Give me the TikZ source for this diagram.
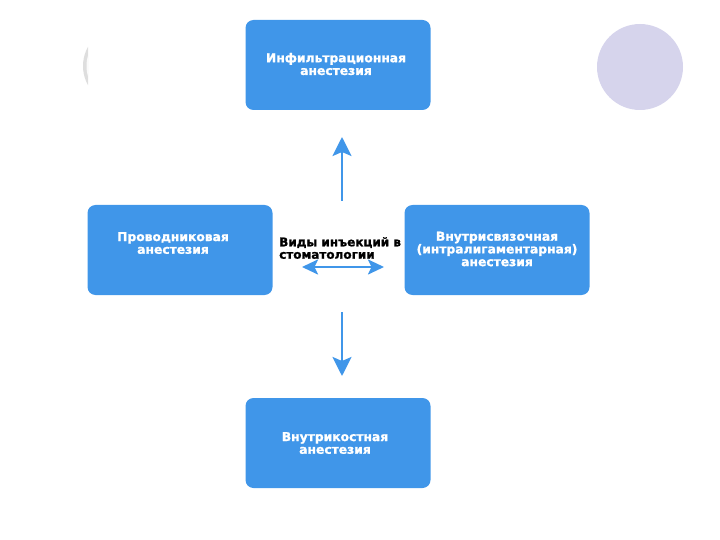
\documentclass[tikz,border=0pt]{standalone}
\usepackage{fontspec}
\setmainfont[BoldFeatures={FakeBold=1.2}]{DejaVu Sans}
\usetikzlibrary{arrows.meta}
\definecolor{boxblue}{RGB}{64,150,233}
\definecolor{lavender}{RGB}{214,212,236}
\definecolor{ringgray}{RGB}{222,222,222}
\begin{document}
\begin{tikzpicture}[
	x=1pt, y=-1pt,
	block/.style={
		rectangle,
		fill=boxblue,
		rounded corners=8pt,
		minimum height=90pt,
		minimum width=185pt
	},
	caption/.style={
		align=center,
		text=white,
		font=\fontsize{12.3}{12.7}\selectfont\bfseries,
		inner sep=0pt
	},
	link/.style={
		line width=2.6pt,
		draw=boxblue,
		-{Stealth[length=19pt,width=19pt,inset=4pt]}
	},
]
\useasboundingbox (0,0) rectangle (720,540);

% Decorations
\begin{scope}
\clip (0,0) rectangle (88,540);
\fill[ringgray] (122,66) circle (39);
\fill[white!96!gray] (124,66) circle (37.5);
\end{scope}
\fill[lavender] (640,67) circle (43);

% Boxes
\node[block] (infil) at (338,65) {};
\node[caption] at (336,64) {Инфильтрационная\\анестезия};

\node[block] (prov) at (180,250) {};
\node[caption] at (173,243) {Проводниковая\\анестезия};

\node[block] (vnsv) at (497,250) {};
\node[caption] at (497,249) {Внутрисвязочная\\(интралигаментарная)\\анестезия};

\node[block] (vnkost) at (338,443) {};
\node[caption] at (335,443) {Внутрикостная\\анестезия};

% Centre
\node[align=left, anchor=west, inner sep=0pt,
	font=\fontsize{12}{12.4}\selectfont\bfseries] (title) at (279,248)
	{Виды инъекций в\\стоматологии};

% Arrows
\coordinate (upa) at (342,201);
\coordinate (upb) at (342,137);
\coordinate (dna) at (342,312);
\coordinate (dnb) at (342,376);
\coordinate (lra) at (302,267);
\coordinate (lrb) at (384,267);

\draw[link] (upa) -- (upb);
\draw[link] (dna) -- (dnb);
\draw[link, line width=2.4pt, {Stealth[length=16pt,width=15pt,inset=3.5pt]}-{Stealth[length=16pt,width=15pt,inset=3.5pt]}] (lra) -- (lrb);

\end{tikzpicture}
\end{document}
